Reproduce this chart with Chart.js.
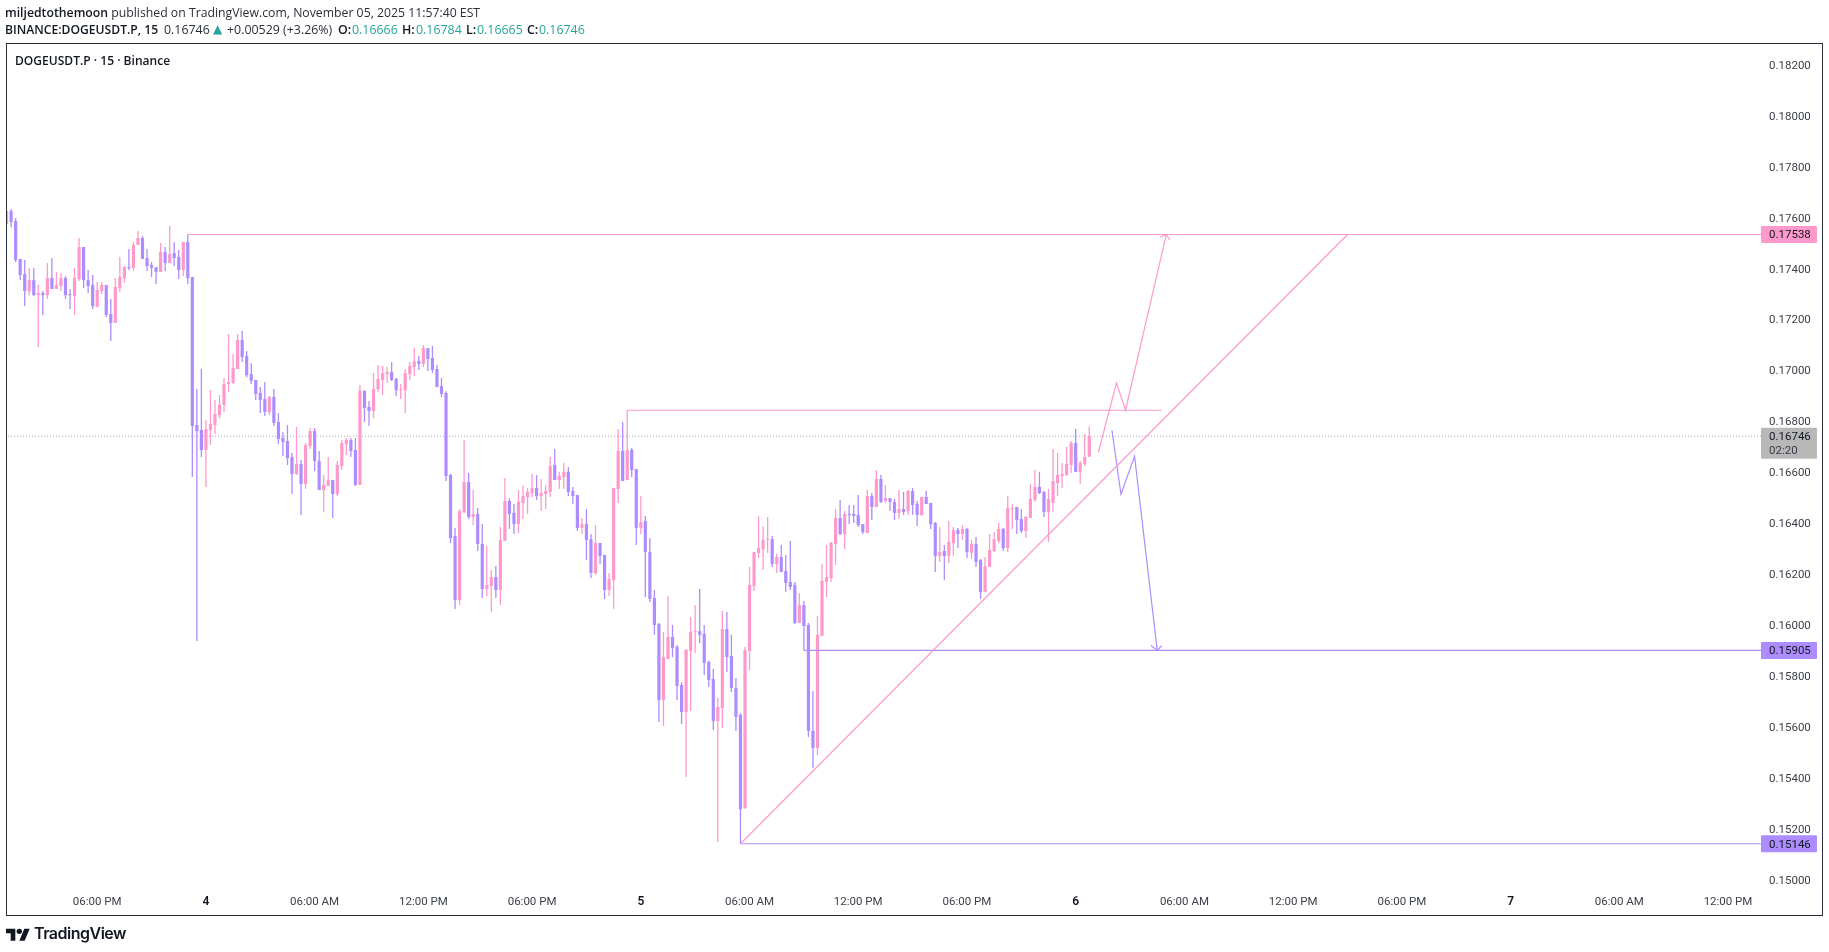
<!DOCTYPE html>
<html>
<head>
<meta charset="utf-8">
<title>DOGEUSDT.P 15</title>
<script src="https://cdn.jsdelivr.net/npm/chart.js@4"></script>
<style>
  html, body { margin: 0; padding: 0; background: #fff; width: 1829px; height: 952px; overflow: hidden; }
  body { position: relative; font-family: "Open Sans", sans-serif; color: #131722; }
  canvas { position: absolute; left: 0; top: 0; }
  .head { position: absolute; left: 5px; font-size: 12.25px; line-height: 17px; white-space: nowrap; color: #2a2e39; }
  .head b { font-weight: 600; color: #131722; }
  #line1 { top: 4px; }
  #line2 { top: 21px; left: 0; width: 600px; height: 17px; font-size: 12.4px; }
  #line2 span { position: absolute; top: 0; }
  #line2 .bold { font-weight: 600; color: #131722; }
  #line2 .boldName { font-weight: 600; color: #131722; font-size: 12.15px; }
  #line2 .val { color: #26a69a; }
  #line2 .tri { color: #26a69a; font-family: "DejaVu Sans"; font-size: 12px; }
  #frame { position: absolute; left: 6px; top: 43px; width: 1815px; height: 871px; border: 1px solid #2a2e39; pointer-events: none; }
  #symbol { position: absolute; left: 15px; top: 52px; font-size: 12.05px; line-height: 17px; font-weight: 600; color: #131722; }
  #logo { position: absolute; left: 6px; top: 925.6px; }
  #logoText { position: absolute; left: 34px; top: 922px; font-family: Inter, sans-serif; font-size: 16px; letter-spacing: -0.5px; line-height: 22px; font-weight: 600; color: #131722; }
</style>
</head>
<body>
<canvas id="chart" width="1829" height="952"></canvas>
<div class="head" id="line1"><b>miljedtothemoon</b> published on TradingView.com, November 05, 2025 11:57:40 EST</div>
<div class="head" id="line2"><span class="boldName" style="left:5px">BINANCE:DOGEUSDT.P, 15</span><span style="left:164px">0.16746</span><span class="tri" style="left:213px">▲</span><span style="left:227px">+0.00529 (+3.26%)</span><span class="bold" style="left:338px">O:</span><span class="val" style="left:352px">0.16666</span><span class="bold" style="left:402px">H:</span><span class="val" style="left:416px">0.16784</span><span class="bold" style="left:466px">L:</span><span class="val" style="left:477px">0.16665</span><span class="bold" style="left:527px">C:</span><span class="val" style="left:539px">0.16746</span></div>
<div id="frame"></div>
<div id="symbol">DOGEUSDT.P · 15 · Binance</div>
<svg id="logo" width="24" height="18.67" viewBox="0 0 36 28"><path fill="#131722" d="M14 22H7V11H0V4h14v18zM28 22h-8l7.5-18h8L28 22z"/><circle fill="#131722" cx="20" cy="8" r="4"/></svg>
<div id="logoText">TradingView</div>
<script>
// candles, 15 minute bars
const opens = [
  0.17579,0.17630,0.17591,0.17442,0.17383,0.17316,0.17359,0.17300,0.17308,0.17300,
  0.17367,0.17324,0.17336,0.17367,0.17304,0.17297,0.17363,0.17489,0.17359,0.17340,
  0.17253,0.17316,0.17340,0.17226,0.17191,0.17328,0.17367,0.17410,0.17407,0.17497,
  0.17524,0.17446,0.17418,0.17410,0.17391,0.17469,0.17426,0.17465,0.17450,0.17399,
  0.17509,0.17371,0.16790,0.16770,0.16692,0.16770,0.16790,0.16829,0.16869,0.16951,
  0.16955,0.17010,0.17124,0.17061,0.16990,0.16967,0.16916,0.16892,0.16841,0.16900,
  0.16802,0.16739,0.16727,0.16664,0.16598,0.16637,0.16558,0.16708,0.16766,0.16649,
  0.16535,0.16551,0.16574,0.16519,0.16629,0.16715,0.16731,0.16692,0.16555,0.16924,
  0.16861,0.16845,0.16931,0.16967,0.16990,0.16998,0.16971,0.16927,0.16927,0.16990,
  0.17018,0.17041,0.17030,0.17092,0.17053,0.17010,0.16943,0.16916,0.16594,0.16354,
  0.16103,0.16448,0.16566,0.16429,0.16441,0.16323,0.16146,0.16158,0.16193,0.16142,
  0.16335,0.16492,0.16445,0.16401,0.16484,0.16507,0.16523,0.16543,0.16511,0.16519,
  0.16527,0.16633,0.16574,0.16586,0.16606,0.16531,0.16515,0.16386,0.16401,0.16342,
  0.16209,0.16327,0.16280,0.16142,0.16181,0.16539,0.16688,0.16574,0.16692,0.16617,
  0.16386,0.16413,0.16291,0.16111,0.16009,0.15710,0.15871,0.15958,0.15919,0.15769,
  0.15663,0.15903,0.15977,0.15981,0.15970,0.15860,0.15793,0.15628,0.15679,0.15989,
  0.15883,0.15758,0.15652,0.15286,0.15903,0.16158,0.16288,0.16303,0.16339,0.16342,
  0.16244,0.16272,0.16217,0.16174,0.16162,0.16013,0.16083,0.16005,0.15589,0.15522,
  0.15962,0.16174,0.16189,0.16323,0.16425,0.16362,0.16441,0.16441,0.16437,0.16401,
  0.16366,0.16511,0.16468,0.16578,0.16492,0.16503,0.16488,0.16445,0.16460,0.16452,
  0.16531,0.16480,0.16437,0.16507,0.16484,0.16405,0.16276,0.16295,0.16276,0.16327,
  0.16378,0.16362,0.16382,0.16288,0.16323,0.16260,0.16134,0.16233,0.16295,0.16335,
  0.16382,0.16307,0.16460,0.16468,0.16421,0.16374,0.16425,0.16496,0.16547,0.16527,
  0.16449,0.16484,0.16562,0.16590,0.16594,0.16633,0.16719,0.16606,0.16637,0.16666
];
const highs = [
  0.17630,0.17638,0.17603,0.17442,0.17438,0.17407,0.17407,0.17340,0.17316,0.17426,
  0.17446,0.17391,0.17387,0.17375,0.17324,0.17407,0.17524,0.17489,0.17399,0.17379,
  0.17352,0.17352,0.17340,0.17285,0.17367,0.17450,0.17414,0.17481,0.17509,0.17552,
  0.17532,0.17481,0.17430,0.17410,0.17505,0.17489,0.17571,0.17509,0.17477,0.17509,
  0.17538,0.17371,0.16931,0.17010,0.16810,0.16927,0.16888,0.16908,0.16975,0.17147,
  0.17069,0.17147,0.17159,0.17081,0.17033,0.16967,0.16939,0.16959,0.16904,0.16931,
  0.16837,0.16762,0.16790,0.16680,0.16782,0.16653,0.16719,0.16778,0.16778,0.16688,
  0.16594,0.16664,0.16574,0.16649,0.16731,0.16739,0.16739,0.16739,0.16947,0.16927,
  0.16884,0.16994,0.17026,0.17022,0.17018,0.17037,0.16975,0.16951,0.17010,0.17037,
  0.17092,0.17061,0.17104,0.17092,0.17100,0.17026,0.16975,0.16923,0.16598,0.16386,
  0.16460,0.16731,0.16602,0.16535,0.16464,0.16401,0.16315,0.16221,0.16236,0.16390,
  0.16582,0.16503,0.16480,0.16535,0.16554,0.16543,0.16598,0.16594,0.16578,0.16554,
  0.16664,0.16696,0.16606,0.16641,0.16625,0.16547,0.16515,0.16425,0.16460,0.16362,
  0.16397,0.16327,0.16280,0.16209,0.16543,0.16774,0.16802,0.16848,0.16700,0.16617,
  0.16511,0.16433,0.16346,0.16142,0.16013,0.15977,0.16119,0.16005,0.15926,0.15781,
  0.15911,0.16036,0.16083,0.16146,0.16005,0.15864,0.15832,0.15718,0.16060,0.16056,
  0.15966,0.15797,0.15659,0.15919,0.16233,0.16291,0.16433,0.16393,0.16429,0.16354,
  0.16284,0.16319,0.16280,0.16335,0.16174,0.16130,0.16099,0.16013,0.15746,0.16040,
  0.16244,0.16319,0.16331,0.16460,0.16496,0.16452,0.16476,0.16476,0.16515,0.16401,
  0.16535,0.16523,0.16613,0.16594,0.16555,0.16503,0.16500,0.16535,0.16527,0.16535,
  0.16543,0.16492,0.16507,0.16531,0.16484,0.16409,0.16390,0.16319,0.16413,0.16390,
  0.16386,0.16397,0.16386,0.16339,0.16350,0.16264,0.16272,0.16362,0.16370,0.16405,
  0.16386,0.16511,0.16480,0.16468,0.16460,0.16433,0.16558,0.16613,0.16606,0.16531,
  0.16539,0.16696,0.16680,0.16641,0.16704,0.16727,0.16774,0.16649,0.16755,0.16784
];
const lows = [
  0.17579,0.17567,0.17430,0.17359,0.17257,0.17300,0.17297,0.17096,0.17222,0.17285,
  0.17324,0.17324,0.17316,0.17285,0.17246,0.17222,0.17355,0.17328,0.17308,0.17246,
  0.17253,0.17304,0.17214,0.17120,0.17191,0.17312,0.17348,0.17399,0.17395,0.17497,
  0.17442,0.17395,0.17371,0.17344,0.17391,0.17395,0.17426,0.17414,0.17363,0.17375,
  0.17344,0.16586,0.15942,0.16664,0.16547,0.16712,0.16755,0.16817,0.16841,0.16920,
  0.16951,0.17010,0.17037,0.16978,0.16951,0.16888,0.16837,0.16825,0.16829,0.16786,
  0.16715,0.16668,0.16633,0.16519,0.16594,0.16437,0.16539,0.16696,0.16609,0.16535,
  0.16448,0.16551,0.16425,0.16511,0.16613,0.16672,0.16664,0.16551,0.16555,0.16802,
  0.16786,0.16817,0.16920,0.16908,0.16955,0.16963,0.16904,0.16892,0.16837,0.16967,
  0.16982,0.17006,0.17018,0.17002,0.16994,0.16939,0.16900,0.16570,0.16327,0.16068,
  0.16083,0.16445,0.16421,0.16397,0.16295,0.16111,0.16119,0.16056,0.16111,0.16083,
  0.16335,0.16382,0.16362,0.16366,0.16421,0.16441,0.16507,0.16496,0.16452,0.16460,
  0.16507,0.16574,0.16539,0.16539,0.16511,0.16480,0.16374,0.16362,0.16260,0.16189,
  0.16201,0.16244,0.16107,0.16119,0.16068,0.16484,0.16570,0.16574,0.16586,0.16319,
  0.16362,0.16115,0.16095,0.15966,0.15624,0.15608,0.15871,0.15879,0.15710,0.15616,
  0.15408,0.15667,0.15895,0.15934,0.15809,0.15761,0.15593,0.15153,0.15600,0.15820,
  0.15742,0.15589,0.15146,0.15282,0.15828,0.16138,0.16268,0.16221,0.16288,0.16233,
  0.16209,0.16213,0.16135,0.16142,0.16009,0.16013,0.15905,0.15565,0.15443,0.15494,
  0.15962,0.16115,0.16174,0.16240,0.16358,0.16303,0.16401,0.16405,0.16390,0.16362,
  0.16366,0.16417,0.16468,0.16484,0.16484,0.16452,0.16417,0.16421,0.16437,0.16437,
  0.16437,0.16394,0.16433,0.16480,0.16382,0.16213,0.16252,0.16182,0.16248,0.16276,
  0.16307,0.16339,0.16268,0.16264,0.16233,0.16107,0.16134,0.16233,0.16291,0.16327,
  0.16295,0.16291,0.16382,0.16362,0.16366,0.16346,0.16425,0.16488,0.16519,0.16429,
  0.16331,0.16449,0.16511,0.16543,0.16590,0.16602,0.16606,0.16558,0.16629,0.16665
];
const closes = [
  0.17630,0.17587,0.17438,0.17379,0.17316,0.17359,0.17300,0.17308,0.17300,0.17367,
  0.17324,0.17340,0.17367,0.17300,0.17300,0.17367,0.17489,0.17359,0.17336,0.17257,
  0.17320,0.17340,0.17222,0.17191,0.17332,0.17371,0.17410,0.17407,0.17497,0.17524,
  0.17442,0.17414,0.17407,0.17391,0.17469,0.17426,0.17461,0.17446,0.17399,0.17509,
  0.17367,0.16786,0.16766,0.16692,0.16774,0.16794,0.16833,0.16869,0.16951,0.16959,
  0.17014,0.17124,0.17057,0.16986,0.16963,0.16912,0.16888,0.16841,0.16900,0.16798,
  0.16735,0.16723,0.16660,0.16598,0.16637,0.16558,0.16711,0.16766,0.16649,0.16535,
  0.16555,0.16574,0.16519,0.16633,0.16719,0.16731,0.16688,0.16555,0.16924,0.16857,
  0.16845,0.16931,0.16971,0.16994,0.16998,0.16967,0.16927,0.16931,0.16994,0.17022,
  0.17041,0.17030,0.17092,0.17049,0.17006,0.16939,0.16912,0.16590,0.16346,0.16103,
  0.16452,0.16566,0.16429,0.16441,0.16323,0.16146,0.16162,0.16193,0.16142,0.16339,
  0.16492,0.16441,0.16401,0.16488,0.16511,0.16527,0.16543,0.16511,0.16523,0.16531,
  0.16629,0.16574,0.16590,0.16606,0.16527,0.16511,0.16386,0.16401,0.16339,0.16209,
  0.16327,0.16276,0.16142,0.16185,0.16543,0.16688,0.16570,0.16692,0.16613,0.16386,
  0.16409,0.16291,0.16107,0.16005,0.15710,0.15879,0.15958,0.15915,0.15765,0.15663,
  0.15907,0.15977,0.15981,0.15966,0.15856,0.15789,0.15628,0.15683,0.15989,0.15879,
  0.15758,0.15644,0.15282,0.15907,0.16162,0.16291,0.16307,0.16339,0.16342,0.16244,
  0.16272,0.16213,0.16170,0.16154,0.16013,0.16083,0.16001,0.15589,0.15522,0.15966,
  0.16178,0.16193,0.16327,0.16425,0.16362,0.16441,0.16437,0.16433,0.16397,0.16370,
  0.16511,0.16468,0.16578,0.16488,0.16503,0.16488,0.16445,0.16460,0.16449,0.16531,
  0.16476,0.16437,0.16507,0.16480,0.16401,0.16276,0.16291,0.16276,0.16331,0.16378,
  0.16362,0.16382,0.16291,0.16323,0.16252,0.16134,0.16236,0.16299,0.16342,0.16382,
  0.16307,0.16464,0.16464,0.16417,0.16374,0.16429,0.16500,0.16547,0.16523,0.16449,
  0.16500,0.16570,0.16594,0.16598,0.16637,0.16719,0.16606,0.16641,0.16664,0.16746
];

// axis labels
const priceTicks = [0.150,0.152,0.154,0.156,0.158,0.160,0.162,0.164,0.166,0.168,0.170,0.172,0.174,0.176,0.178,0.180,0.182];
const timeTickBars = [20,44,68,92,116,140,164,188,212,236,260,284,308,332,356,380];
const timeTickLabels = ["06:00 PM","4","06:00 AM","12:00 PM","06:00 PM","5","06:00 AM","12:00 PM","06:00 PM","6","06:00 AM","12:00 PM","06:00 PM","7","06:00 AM","12:00 PM"];
const dayLabels = ["4","5","6","7"];

// drawn lines: bar number and price
const lastBarAxis = 388;
const upperLevel = [[40,0.17538],[lastBarAxis,0.17538]];
const middleLevel = [[137,0.16848],[255,0.16848]];
const targetLevel = [[176,0.15905],[lastBarAxis,0.15905]];
const lowLevel = [[162,0.15146],[lastBarAxis,0.15146]];
const trendLine = [[162,0.15146],[296,0.17538]];
const upPath = [[241,0.16683],[245,0.16955],[247,0.16848],[256,0.17538]];
const upArrowHead = [[254.6,0.17527],[256,0.17538],[256.8,0.17516]];
const downPath = [[244,0.16770],[246,0.16518],[249,0.16667],[254,0.15905]];
const downArrowHead = [[252.6,0.15924],[254,0.15905],[255,0.15924]];
const lastPrice = 0.16746;

// price tags on the axis
const tagPrices = [0.17538,0.15905,0.15146];
const countdown = "02:20";

const PINK = "#ff99cc";
const PURPLE = "#ad8cff";

function toPoints(list) {
  return list.map((p) => ({ x: p[0], y: p[1] }));
}

function drawnLine(list, color, width) {
  return {
    type: "line",
    data: toPoints(list),
    borderColor: color,
    borderWidth: width,
    pointRadius: 0,
    tension: 0,
    order: 0,
  };
}

const barColors = closes.map((c, i) => (c >= opens[i] ? PINK : PURPLE));

// price tags, drawn over the axis labels
const priceTagPlugin = {
  id: "priceTags",
  afterDraw(chart) {
    const ctx = chart.ctx;
    const y = chart.scales.y;
    const left = chart.chartArea.right;
    ctx.save();
    ctx.font = "11.5px Roboto";
    ctx.textBaseline = "middle";
    ctx.textAlign = "left";

    tagPrices.forEach((price, i) => {
      const py = y.getPixelForValue(price);
      ctx.fillStyle = i === 0 ? PINK : PURPLE;
      ctx.beginPath();
      ctx.roundRect(left, py - 8.5, 56, 17, 1);
      ctx.fill();
      ctx.fillStyle = "#131722";
      ctx.fillText(price.toFixed(5), left + 8, py + 1);
    });

    const py = y.getPixelForValue(lastPrice);
    ctx.fillStyle = "#b8b8b8";
    ctx.beginPath();
    ctx.roundRect(left, py - 8.5, 56, 31, 1);
    ctx.fill();
    ctx.fillStyle = "#131722";
    ctx.fillText(lastPrice.toFixed(5), left + 8, py + 1);
    ctx.fillStyle = "#363a45";
    ctx.fillText(countdown, left + 8, py + 15);
    ctx.restore();
  },
};

new Chart(document.getElementById("chart"), {
  type: "bar",
  data: {
    datasets: [
      drawnLine(upperLevel, PINK, 1.2),
      drawnLine(middleLevel, PINK, 1.2),
      drawnLine(trendLine, PINK, 1.2),
      drawnLine(upPath, PINK, 1.2),
      drawnLine(upArrowHead, PINK, 1.2),
      drawnLine(targetLevel, PURPLE, 1.2),
      drawnLine(lowLevel, PURPLE, 1.2),
      drawnLine(downPath, PURPLE, 1.2),
      drawnLine(downArrowHead, PURPLE, 1.2),
      {
        data: opens.map((o, i) => ({ x: i, y: [o, closes[i]] })),
        backgroundColor: barColors,
        barThickness: 3.2,
        minBarLength: 1,
        inflateAmount: 0,
        grouped: false,
        order: 1,
      },
      {
        data: opens.map((o, i) => ({ x: i, y: [lows[i], highs[i]] })),
        backgroundColor: barColors,
        barThickness: 1.3,
        inflateAmount: 0,
        grouped: false,
        order: 2,
      },
      {
        type: "line",
        data: toPoints([[-1,lastPrice],[lastBarAxis,lastPrice]]),
        borderColor: "#a6a6a6",
        borderWidth: 1,
        borderDash: [1, 2],
        pointRadius: 0,
        order: 3,
      },
    ],
  },
  options: {
    responsive: false,
    animation: false,
    events: [],
    layout: { padding: { left: 7, top: 44, right: 0, bottom: 0 } },
    plugins: { legend: { display: false }, tooltip: { enabled: false } },
    scales: {
      x: {
        type: "linear",
        offset: false,
        min: 0.09,
        max: 387.28,
        grid: { display: false },
        border: { display: false },
        afterBuildTicks(scale) {
          scale.ticks = timeTickBars.map((v) => ({ value: v }));
        },
        afterFit(scale) {
          scale.height = 67;
        },
        ticks: {
          autoSkip: false,
          maxRotation: 0,
          padding: 2,
          color(c) {
            return dayLabels.includes(timeTickLabels[c.index]) ? "#131722" : "#3c4049";
          },
          font(c) {
            const isDay = dayLabels.includes(timeTickLabels[c.index]);
            return { family: "Roboto", size: isDay ? 12 : 11.5, weight: isDay ? "600" : "400" };
          },
          callback(value) {
            return timeTickLabels[timeTickBars.indexOf(value)];
          },
        },
      },
      y: {
        position: "right",
        min: 0.14984,
        max: 0.18286,
        grid: { display: false, drawTicks: false },
        border: { display: false },
        afterBuildTicks(scale) {
          scale.ticks = priceTicks.map((v) => ({ value: v }));
        },
        afterFit(scale) {
          scale.width = 68;
        },
        ticks: {
          padding: 8,
          color: "#3c4049",
          font: { family: "Roboto", size: 11.5 },
          callback(value) {
            return value.toFixed(5);
          },
        },
      },
    },
  },
  plugins: [priceTagPlugin],
});
</script>
</body>
</html>
